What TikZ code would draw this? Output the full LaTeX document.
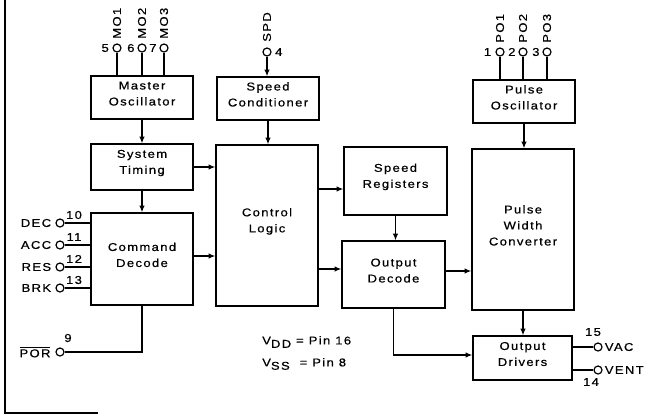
\documentclass[tikz,border=0pt]{standalone}
\usepackage{fontspec}
\setmainfont{Liberation Sans}
\newfontfamily\lblfont[FakeStretch=1.15,LetterSpace=12,FakeBold=0.6]{Liberation Sans}
\usetikzlibrary{fit,arrows.meta}
\begin{document}
\begin{tikzpicture}[x=0.75pt,y=-0.75pt,
  font=\lblfont\fontsize{8.5}{12}\selectfont,
  box/.style={draw, line width=1pt, inner sep=0pt, align=center},
  pin/.style={circle, draw, line width=0.9pt, fill=white, inner sep=0pt, minimum size=6pt},
  wire/.style={line width=1pt},
  arr/.style={wire, -{Latex[length=5pt,width=4.2pt]}},
  lab/.style={inner sep=0pt},
  vlab/.style={inner sep=0pt, rotate=90, anchor=west}]
\useasboundingbox (0,0) rectangle (652,415);
% frame
\draw[line width=1pt] (5,0) -- (5,413) -- (98,413);
% boxes
\node[box, fit={(91,76) (193,119)}] (mo) {Master\\Oscillator};
\node[box, fit={(91,144) (193,190)}] (st) {System\\Timing};
\node[box, fit={(91,213) (193,305)}] (cd) {Command\\Decode};
\node[box, fit={(217,77) (319,120)}] (sc) {Speed\\Conditioner};
\node[box, fit={(216,145) (318,306)}] (cl) {Control\\Logic};
\node[box, fit={(344,147) (447,215)}] (sr) {Speed\\Registers};
\node[box, fit={(342,241) (445,308)}] (od) {Output\\Decode};
\node[box, fit={(473,80) (575,123)}] (po) {Pulse\\Oscillator};
\node[box, fit={(472,149) (574,310)}] (pwc) {Pulse\\Width\\Converter};
\node[box, fit={(473,336) (572,380)}] (odr) {Output\\Drivers};
% master oscillator pins
\node[pin] (p5) at (117,48) {};
\node[pin] (p6) at (142,48) {};
\node[pin] (p7) at (164,48) {};
\draw[wire] (p5) -- (p5 |- mo.north);
\draw[wire] (p6) -- (p6 |- mo.north);
\draw[wire] (p7) -- (p7 |- mo.north);
\node[lab, anchor=east] (n5) at ([xshift=-2.5pt]p5.west) {5};
\node[lab, anchor=east] (n6) at ([xshift=-2pt]p6.west) {6};
\node[lab, anchor=east] (n7) at ([xshift=-2pt]p7.west) {7};
\node[vlab] (l5) at (117,39) {MO1};
\node[vlab] (l6) at (142,39) {MO2};
\node[vlab] (l7) at (164,39) {MO3};
% speed pin
\node[pin] (p4) at (267,52) {};
\node[lab, anchor=west] (n4) at ([xshift=2.5pt]p4.east) {4};
\node[vlab] (l4) at (267,42) {SPD};
\draw[arr] (p4) -- (p4 |- sc.north);
% pulse oscillator pins
\node[pin] (p1) at (500,52) {};
\node[pin] (p2) at (523,52) {};
\node[pin] (p3) at (547,52) {};
\draw[wire] (p1) -- (p1 |- po.north);
\draw[wire] (p2) -- (p2 |- po.north);
\draw[wire] (p3) -- (p3 |- po.north);
\node[lab, anchor=east] (n1) at ([xshift=-3pt]p1.west) {1};
\node[lab, anchor=east] (n2) at ([xshift=-2pt]p2.west) {2};
\node[lab, anchor=east] (n3) at ([xshift=-2pt]p3.west) {3};
\node[vlab] (l1) at (500,43) {PO1};
\node[vlab] (l2) at (523,43) {PO2};
\node[vlab] (l3) at (547,43) {PO3};
% command pins
\node[pin] (p10) at (60,223) {};
\node[pin] (p11) at (60,245) {};
\node[pin] (p12) at (60,267) {};
\node[pin] (p13) at (60,288) {};
\draw[wire] (p10) -- (p10 -| cd.west);
\draw[wire] (p11) -- (p11 -| cd.west);
\draw[wire] (p12) -- (p12 -| cd.west);
\draw[wire] (p13) -- (p13 -| cd.west);
\node[lab, anchor=east] (l10) at ([xshift=-3pt]p10.west) {DEC};
\node[lab, anchor=east] (l11) at ([xshift=-3pt]p11.west) {ACC};
\node[lab, anchor=east] (l12) at ([xshift=-3pt]p12.west) {RES};
\node[lab, anchor=east] (l13) at ([xshift=-3pt]p13.west) {BRK};
\node[lab] (n10) at (74,215) {10};
\node[lab] (n11) at (74,237) {11};
\node[lab] (n12) at (74,259) {12};
\node[lab] (n13) at (74,280) {13};
% POR
\node[pin] (p9) at (60,352) {};
\node[lab, anchor=east] (l9) at ([xshift=-3.5pt]p9.west) {$\overline{\hbox{\lblfont POR}}$};
\node[lab] (n9) at (68,338) {9};
\draw[wire] (p9) -- (cd.south |- p9) -- (cd.south);
% flow arrows
\draw[arr] (mo) -- (st);
\draw[arr] (st) -- (cd);
\draw[arr] (sc.south) -- (sc.south |- cl.north);
\draw[arr] (st.east) -- (st.east -| cl.west);
\draw[arr] (cd.east |- 0,256) -- (cl.west |- 0,256);
\draw[arr] (cl.east |- 0,189) -- (sr.west |- 0,189);
\draw[arr] (sr.south) -- (sr.south |- od.north);
\draw[arr] (cl.east |- 0,269) -- (od.west |- 0,269);
\draw[arr] (od.east |- 0,271) -- (pwc.west |- 0,271);
\draw[arr] (po.south) -- (po.south |- pwc.north);
\draw[arr] (pwc.south) -- (pwc.south |- odr.north);
\coordinate (odin) at (odr.west |- 0,355);
\draw[arr] (od.south) |- (odin);
% output driver pins
\node[pin] (p15) at (598,347) {};
\node[pin] (p14) at (598,370) {};
\draw[wire] (odr.east |- p15) -- (p15);
\draw[wire] (odr.east |- p14) -- (p14);
\node[lab, anchor=west] (l15) at ([xshift=1.5pt]p15.east) {VAC};
\node[lab, anchor=west] (l14) at ([xshift=1.5pt]p14.east) {VENT};
\node[lab] (n15) at (593,332) {15};
\node[lab] (n14) at (591,382) {14};
% supply note
\node[lab, anchor=west] (vdd) at (262,342) {V\raisebox{-2.5pt}{DD} = Pin 16};
\node[lab, anchor=west] (vss) at (262,364) {V\raisebox{-2.5pt}{SS}\ \ = Pin 8};
\end{tikzpicture}
\end{document}
